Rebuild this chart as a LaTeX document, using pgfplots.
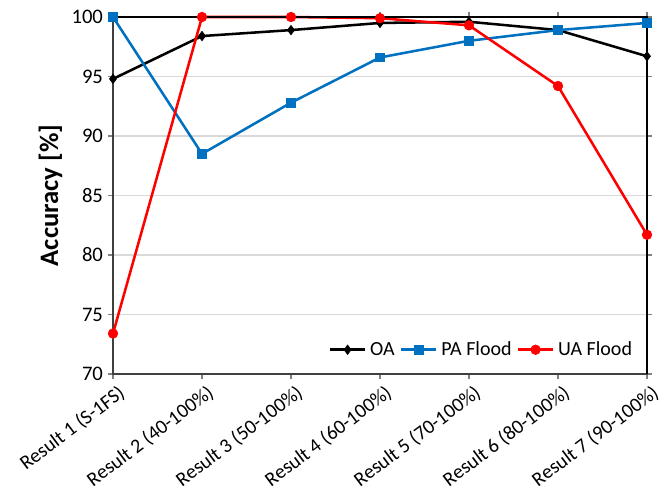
\documentclass[border=0pt]{standalone}
\usepackage{fontspec}
\setmainfont{Carlito}
\usepackage{pgfplots}
\pgfplotsset{compat=1.18}
\usetikzlibrary{calc}

\definecolor{paBlue}{RGB}{0,112,192}
\definecolor{uaRed}{RGB}{255,0,0}
\definecolor{gridGray}{RGB}{217,217,217}

\begin{document}
\begin{tikzpicture}[x=1pt,y=1pt]
\begin{axis}[
    width=400.5pt, height=267.75pt,
    scale only axis,
    xmin=0, xmax=6, ymin=70, ymax=100,
    xtick={0,...,6},
    xticklabels={Result 1 (S-1FS),Result 2 (40-100\%),Result 3 (50-100\%),Result 4 (60-100\%),Result 5 (70-100\%),Result 6 (80-100\%),Result 7 (90-100\%)},
    x tick label style={rotate=37, anchor=north east, font=\fontsize{15}{17}\selectfont, xshift=4pt, yshift=-1pt},
    ytick={70,75,...,100},
    y tick label style={font=\fontsize{15.5}{17}\selectfont},
    /pgf/number format/assume math mode=true,
    ylabel={\textbf{Accuracy [\%]}},
    ylabel style={font=\fontsize{20}{22}\selectfont},
    ymajorgrids, grid style={gridGray, line width=1pt},
    tick align=outside, major tick length=4pt,
    tick style={gray, line width=0.8pt},
    axis line style={black!75, line width=1.2pt},
    legend columns=-1,
    legend style={at={(0.985,0.03)}, anchor=south east, draw=none, fill=white,
        font=\fontsize{15}{17}\selectfont, column sep=1pt,
        /tikz/every even column/.append style={column sep=2pt}},
    legend image code/.code={
        \draw[mark repeat=2, mark phase=2] plot coordinates {(0pt,0pt) (13pt,0pt) (26pt,0pt)};
    },
    every axis plot/.append style={line width=1.9pt},
    clip=false,
]
\addplot[black, mark=diamond*, mark size=3.5pt, mark options={line width=0.5pt}] coordinates {
    (0,94.8) (1,98.4) (2,98.9) (3,99.5) (4,99.6) (5,98.9) (6,96.7)
};
\addlegendentry{OA}
\addplot[paBlue, mark=square*, mark size=3.2pt, mark options={line width=0.5pt}] coordinates {
    (0,100) (1,88.5) (2,92.8) (3,96.6) (4,98.0) (5,98.9) (6,99.5)
};
\addlegendentry{PA Flood}
\addplot[uaRed, mark=*, mark size=3.6pt, mark options={line width=0.5pt}] coordinates {
    (0,73.4) (1,100) (2,100) (3,99.9) (4,99.3) (5,94.2) (6,81.7)
};
\addlegendentry{UA Flood}
\draw[black, line width=1.2pt] (rel axis cs:0,1) -- (rel axis cs:1,1) -- (rel axis cs:1,0);
\coordinate (tl) at (rel axis cs:0,1);
\end{axis}
\pgfresetboundingbox
\path ($(tl)+(-84.75pt,12.75pt)$) rectangle ++(496.5pt,-367.5pt);
\end{tikzpicture}
\end{document}
